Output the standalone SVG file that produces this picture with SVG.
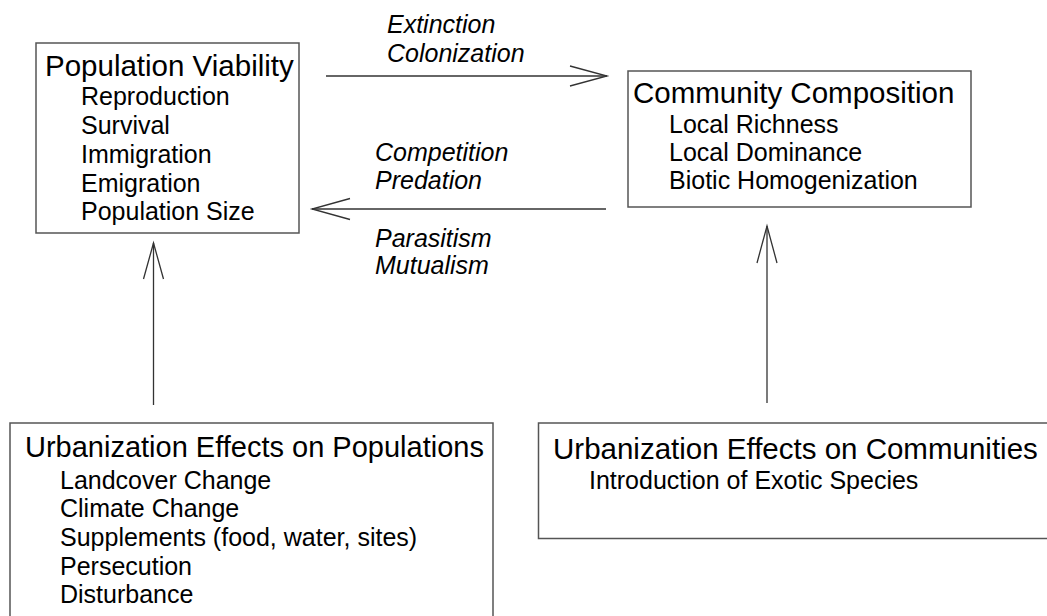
<svg xmlns="http://www.w3.org/2000/svg" width="1047" height="616" viewBox="0 0 1047 616">
<style>
.box{fill:#fff;stroke:#555;stroke-width:1.5}
.t{font-family:"Liberation Sans",Arial,sans-serif;font-size:29.5px;fill:#000}
.s{font-family:"Liberation Sans",Arial,sans-serif;font-size:25px;fill:#000}
.i{font-family:"Liberation Sans",Arial,sans-serif;font-size:25px;font-style:italic;fill:#000}
.ln{stroke:#333;stroke-width:1.3;fill:none}
</style>
<rect width="1047" height="616" fill="#fff"/>
<g id="connectors">
<line class="ln" x1="326" y1="76" x2="607" y2="76"/>
<polyline class="ln" points="570,66 607,76 570,86"/>
<line class="ln" x1="606" y1="209" x2="312" y2="209"/>
<polyline class="ln" points="350,198.5 312,209 350,219.5"/>
<line class="ln" x1="153.5" y1="405" x2="153.5" y2="243"/>
<polyline class="ln" points="143.5,279 153.5,243 163.5,279"/>
<line class="ln" x1="767" y1="403" x2="767" y2="226"/>
<polyline class="ln" points="757,263 767,226 777,263"/>
<text class="i" x="387" y="33">Extinction</text>
<text class="i" x="387" y="62">Colonization</text>
<text class="i" x="375" y="161">Competition</text>
<text class="i" x="375" y="189">Predation</text>
<text class="i" x="375" y="247">Parasitism</text>
<text class="i" x="375" y="274">Mutualism</text>
</g>
<g id="population-viability">
<rect class="box" x="36" y="43" width="263" height="190"/>
<text class="t" x="45" y="76">Population Viability</text>
<text class="s" x="81" y="105">Reproduction</text>
<text class="s" x="81" y="134">Survival</text>
<text class="s" x="81" y="163">Immigration</text>
<text class="s" x="81" y="192">Emigration</text>
<text class="s" x="81" y="220">Population Size</text>
</g>
<g id="community-composition">
<rect class="box" x="628" y="71" width="343" height="136"/>
<text class="t" x="633" y="103">Community Composition</text>
<text class="s" x="669" y="133">Local Richness</text>
<text class="s" x="669" y="161">Local Dominance</text>
<text class="s" x="669" y="189">Biotic Homogenization</text>
</g>
<g id="urbanization-populations">
<rect class="box" x="10" y="423" width="483" height="220"/>
<text class="t" x="25" y="457" style="font-size:29px">Urbanization Effects on Populations</text>
<text class="s" x="60" y="489">Landcover Change</text>
<text class="s" x="60" y="517">Climate Change</text>
<text class="s" x="60" y="546">Supplements (food, water, sites)</text>
<text class="s" x="60" y="575">Persecution</text>
<text class="s" x="60" y="603">Disturbance</text>
</g>
<g id="urbanization-communities">
<rect class="box" x="538.5" y="423" width="540" height="115.5"/>
<text class="t" x="553" y="459">Urbanization Effects on Communities</text>
<text class="s" x="589" y="489">Introduction of Exotic Species</text>
</g>
</svg>
